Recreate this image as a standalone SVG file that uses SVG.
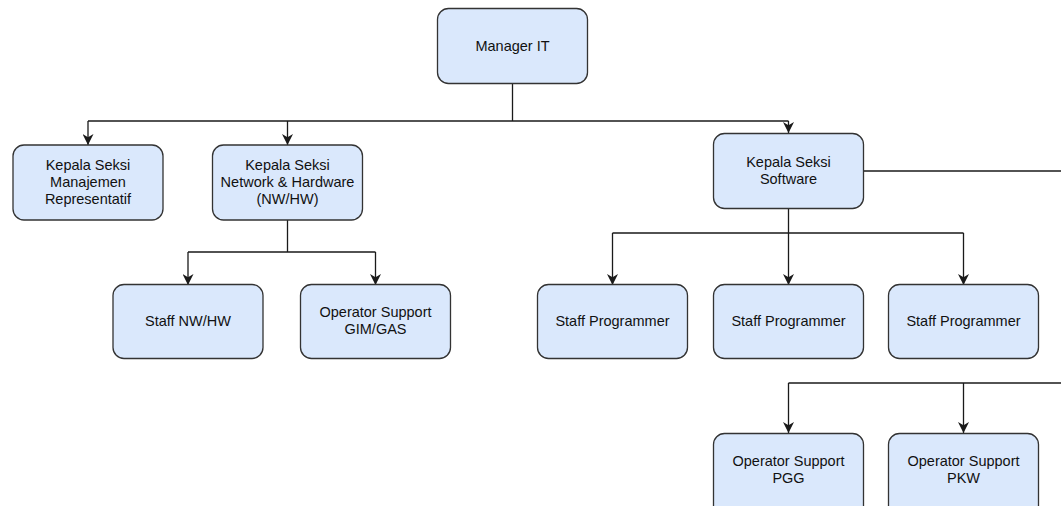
<svg xmlns="http://www.w3.org/2000/svg" width="1061" height="506" viewBox="0 0 1061 506">
<defs>
<style>
.box{fill:#dae8fc;stroke:#333333;stroke-width:1.3}
.t{font-family:"Liberation Sans",Arial,sans-serif;font-size:14.5px;fill:#111111;text-anchor:middle}
.c{fill:none;stroke:#1a1a1a;stroke-width:1.3}
</style>
<marker id="ah" viewBox="0 0 10 10" refX="10" refY="5" markerWidth="11" markerHeight="11" markerUnits="userSpaceOnUse" orient="auto">
<path d="M0,0 L10,5 L0,10 L3,5 Z" fill="#1a1a1a"/>
</marker>
</defs>
<rect width="1061" height="506" fill="#ffffff"/>
<g id="connectors">
<path class="c" d="M512.5,84 V121"/>
<path class="c" d="M88,121 H788.5"/>
<path class="c" d="M88,121 V145" marker-end="url(#ah)"/>
<path class="c" d="M287.5,121 V145" marker-end="url(#ah)"/>
<path class="c" d="M788.5,121 V133" marker-end="url(#ah)"/>
<path class="c" d="M287.5,220 V252 M188,252 H375.5"/>
<path class="c" d="M188,252 V285" marker-end="url(#ah)"/>
<path class="c" d="M375.5,252 V285" marker-end="url(#ah)"/>
<path class="c" d="M788.5,209 V233 M612.5,233 H963.5"/>
<path class="c" d="M612.5,233 V285" marker-end="url(#ah)"/>
<path class="c" d="M788.5,233 V285" marker-end="url(#ah)"/>
<path class="c" d="M963.5,233 V285" marker-end="url(#ah)"/>
<path class="c" d="M863,171 H1061"/>
<path class="c" d="M1061,383 H788.5"/>
<path class="c" d="M788.5,383 V433" marker-end="url(#ah)"/>
<path class="c" d="M963.5,383 V433" marker-end="url(#ah)"/>
</g>
<g id="manager-it">
<rect class="box" x="437.5" y="8.5" width="150" height="75" rx="11"/>
<text class="t" x="512.5" y="51">Manager IT</text>
</g>
<g id="kasi-manajemen">
<rect class="box" x="13" y="145" width="150" height="75" rx="11"/>
<text class="t" x="88" y="170">Kepala Seksi</text>
<text class="t" x="88" y="187">Manajemen</text>
<text class="t" x="88" y="204">Representatif</text>
</g>
<g id="kasi-nwhw">
<rect class="box" x="212.5" y="145" width="150" height="75" rx="11"/>
<text class="t" x="287.5" y="170">Kepala Seksi</text>
<text class="t" x="287.5" y="187">Network &amp; Hardware</text>
<text class="t" x="287.5" y="204">(NW/HW)</text>
</g>
<g id="kasi-software">
<rect class="box" x="713.5" y="133.5" width="150" height="75" rx="11"/>
<text class="t" x="788.5" y="167">Kepala Seksi</text>
<text class="t" x="788.5" y="184">Software</text>
</g>
<g id="staff-nwhw">
<rect class="box" x="113" y="284.5" width="150" height="74" rx="11"/>
<text class="t" x="188" y="326">Staff NW/HW</text>
</g>
<g id="op-gim-gas">
<rect class="box" x="300.5" y="284.5" width="150" height="74" rx="11"/>
<text class="t" x="375.5" y="317">Operator Support</text>
<text class="t" x="375.5" y="334">GIM/GAS</text>
</g>
<g id="staff-prog-1">
<rect class="box" x="537.5" y="284.5" width="150" height="74" rx="11"/>
<text class="t" x="612.5" y="326">Staff Programmer</text>
</g>
<g id="staff-prog-2">
<rect class="box" x="713.5" y="284.5" width="150" height="74" rx="11"/>
<text class="t" x="788.5" y="326">Staff Programmer</text>
</g>
<g id="staff-prog-3">
<rect class="box" x="888.5" y="284.5" width="150" height="74" rx="11"/>
<text class="t" x="963.5" y="326">Staff Programmer</text>
</g>
<g id="op-pgg">
<rect class="box" x="713.5" y="433.5" width="150" height="85" rx="11"/>
<text class="t" x="788.5" y="466">Operator Support</text>
<text class="t" x="788.5" y="483">PGG</text>
</g>
<g id="op-pkw">
<rect class="box" x="888.5" y="433.5" width="150" height="85" rx="11"/>
<text class="t" x="963.5" y="466">Operator Support</text>
<text class="t" x="963.5" y="483">PKW</text>
</g>
</svg>
